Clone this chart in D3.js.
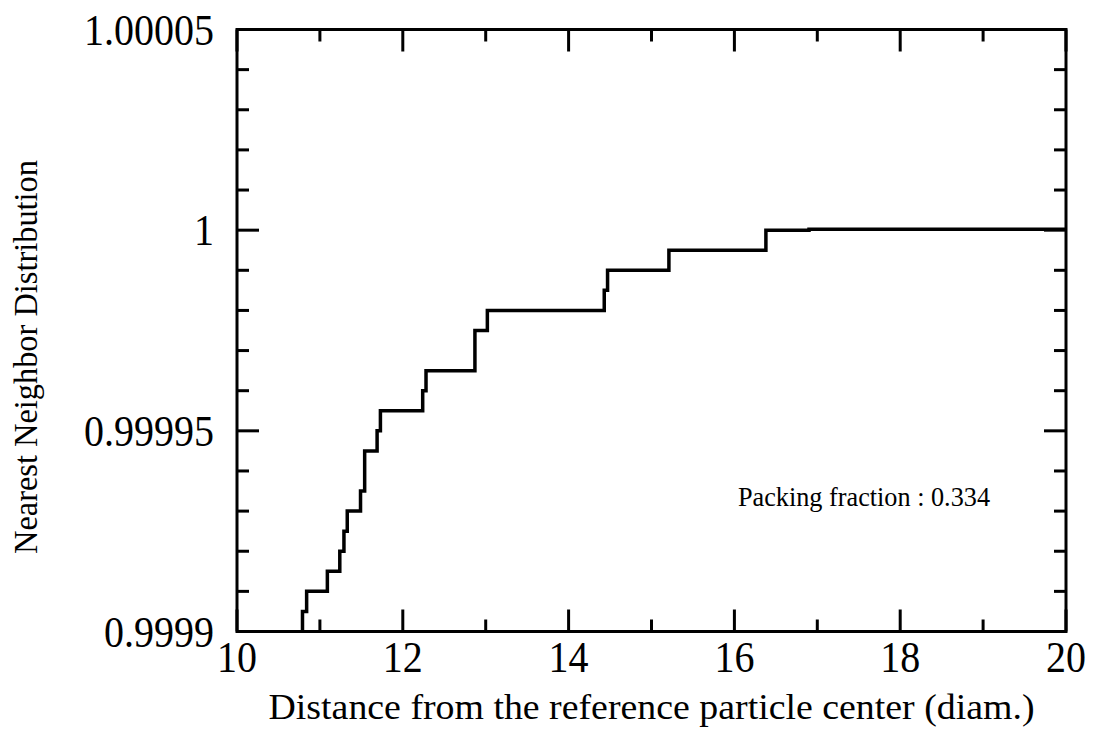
<!DOCTYPE html>
<html>
<head>
<meta charset="utf-8">
<script src="https://cdn.jsdelivr.net/npm/d3@7"></script>
<style>
  html, body { margin: 0; padding: 0; background: #fff; }
  svg { display: block; }
  text { font-family: "Liberation Serif", "Times New Roman", serif; fill: #000; }
</style>
</head>
<body>
<svg id="chart" width="1097" height="730"></svg>
<script>
// Step curve: distance (diam.) at which each step occurs, and the level after the step
const stepX = [10.79, 10.84, 11.09, 11.24, 11.29, 11.33, 11.49, 11.54, 11.69, 11.73, 12.24, 12.28, 12.87, 13.02, 14.43, 14.47, 15.21, 16.38, 16.9, 20];
const stepY = [0.999905, 0.99991, 0.999915, 0.99992, 0.999925, 0.99993, 0.999935, 0.999945, 0.99995, 0.999955, 0.99996, 0.999965, 0.999975, 0.99998, 0.999985, 0.99999, 0.999995, 1.0, 1.0000002, 1.0000002];
const xMajorTicks = [10, 12, 14, 16, 18, 20];
const xMinorTicks = [11, 13, 15, 17, 19];
const yMajorTicks = [0.9999, 0.99995, 1, 1.00005];
const yMajorLabels = ["0.9999", "0.99995", "1", "1.00005"];
const yMinorTicks = [0.99991, 0.99992, 0.99993, 0.99994, 0.99996, 0.99997, 0.99998, 0.99999, 1.00001, 1.00002, 1.00003, 1.00004];
const xTitle = "Distance from the reference particle center (diam.)";
const yTitle = "Nearest Neighbor Distribution";
const annotation = "Packing fraction : 0.334";

const svg = d3.select("#chart");
const L = 237, R = 1066, T = 29.5, B = 631.5;
const x = d3.scaleLinear().domain([10, 20]).range([L, R]);
const y = d3.scaleLinear().domain([0.9999, 1.00005]).range([B, T]);

const major = 22, minor = 12, sw = 3;

// frame
svg.append("rect").attr("x", L).attr("y", T).attr("width", R - L).attr("height", B - T)
  .attr("fill", "none").attr("stroke", "#000").attr("stroke-width", sw);

const ticks = svg.append("g").attr("stroke", "#000").attr("stroke-width", sw);
function xt(vals, len) {
  vals.forEach(v => {
    ticks.append("line").attr("x1", x(v)).attr("x2", x(v)).attr("y1", B).attr("y2", B - len);
    ticks.append("line").attr("x1", x(v)).attr("x2", x(v)).attr("y1", T).attr("y2", T + len);
  });
}
function yt(vals, len) {
  vals.forEach(v => {
    ticks.append("line").attr("y1", y(v)).attr("y2", y(v)).attr("x1", L).attr("x2", L + len);
    ticks.append("line").attr("y1", y(v)).attr("y2", y(v)).attr("x1", R).attr("x2", R - len);
  });
}
xt(xMajorTicks, major); xt(xMinorTicks, minor);
yt(yMajorTicks, major); yt(yMinorTicks, minor);

const sy = 1.12; // scanned text is slightly taller than wide

// tick labels
svg.append("g").selectAll("text").data(xMajorTicks).join("text")
  .attr("transform", d => `translate(${x(d)},672) scale(1,${sy})`)
  .attr("text-anchor", "middle").attr("font-size", 40).text(d => d);
svg.append("g").selectAll("text").data(yMajorTicks).join("text")
  .attr("transform", d => `translate(214,${y(d) + 15}) scale(1,${sy})`)
  .attr("text-anchor", "end").attr("font-size", 40).text((d, i) => yMajorLabels[i]);

// titles
svg.append("text").attr("x", (L + R) / 2).attr("y", 719).attr("text-anchor", "middle")
  .attr("font-size", 35).attr("textLength", 766).attr("lengthAdjust", "spacingAndGlyphs")
  .text(xTitle);
svg.append("text").attr("transform", `translate(37,357) rotate(-90)`)
  .attr("text-anchor", "middle").attr("font-size", 33)
  .attr("textLength", 394).attr("lengthAdjust", "spacingAndGlyphs").text(yTitle);

svg.append("text").attr("x", 738).attr("y", 506).attr("font-size", 28)
  .attr("textLength", 252).attr("lengthAdjust", "spacingAndGlyphs").text(annotation);

// step curve
const pts = [[stepX[0], 0.9999]];
stepX.forEach((sx, i) => { pts.push([sx, stepY[i]]); });
const line = d3.line().x(d => x(d[0])).y(d => y(d[1])).curve(d3.curveStepAfter);
svg.append("path").datum(pts).attr("d", line)
  .attr("fill", "none").attr("stroke", "#000").attr("stroke-width", 3.5);
</script>
</body>
</html>
